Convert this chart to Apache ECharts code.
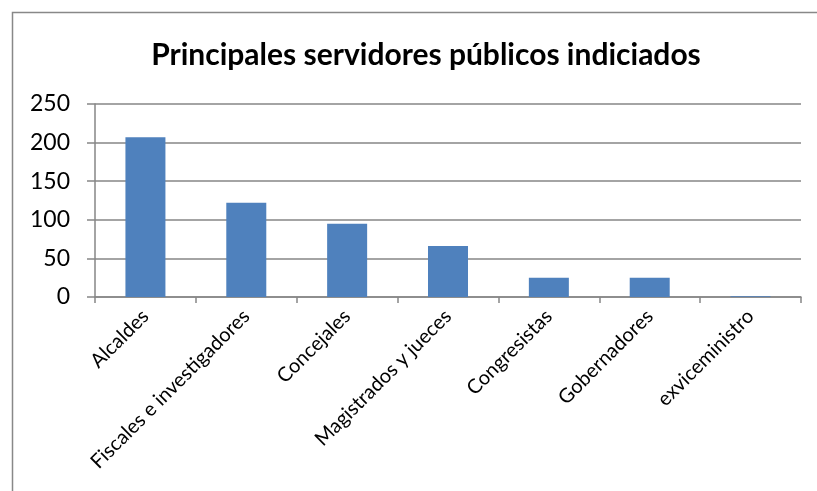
<!DOCTYPE html>
<html><head><meta charset="utf-8">
<script src="https://cdn.jsdelivr.net/npm/echarts@6/dist/echarts.min.js"></script>
<style>html,body{margin:0;padding:0;background:#fff}#c{width:817px;height:491px}</style>
</head><body><div id="c"></div>
<script>
const categories = ["Alcaldes","Fiscales e investigadores","Concejales","Magistrados y jueces","Congresistas","Gobernadores","exviceministro"];
const values = [207, 122, 95, 66, 25, 25, 1];
const yTicks = [0, 50, 100, 150, 200, 250];
const title = "Principales servidores públicos indiciados";

const chart = echarts.init(document.getElementById('c'));
chart.setOption({
  animation: false,
  backgroundColor: '#fff',
  title: { text: title, left: 421, top: 35, textAlign: 'center',
    textStyle: { fontFamily: 'Lato', fontWeight: 'bold', fontSize: 30, color: '#000' } },
  graphic: [{ type: 'rect', shape: { x: 12.5, y: 12.5, width: 900, height: 600 },
    style: { fill: 'none', stroke: '#888', lineWidth: 1.5 }, silent: true }],
  grid: { left: 95, right: 16, top: 104, bottom: 194, containLabel: false },
  xAxis: { type: 'category', data: categories,
    axisLine: { lineStyle: { color: '#868686', width: 1.5 } },
    axisTick: { show: true, length: 6, lineStyle: { color: '#868686', width: 1.5 } },
    axisLabel: { rotate: 45, interval: 0, fontFamily: 'Lato', fontSize: 20, color: '#000', margin: 16 } },
  yAxis: { type: 'value', min: 0, max: 250, interval: 50,
    axisLine: { show: true, lineStyle: { color: '#868686', width: 1.5 } },
    axisTick: { show: true, length: 8, lineStyle: { color: '#868686', width: 1.5 } },
    splitLine: { lineStyle: { color: '#868686', width: 1.5 } },
    axisLabel: { fontFamily: 'Lato', fontSize: 23, color: '#000', margin: 25,
      formatter: v => yTicks.includes(v) ? String(v) : '' } },
  series: [{ type: 'bar', data: values, barWidth: 40,
    itemStyle: { color: '#4f81bd' } }]
});
</script></body></html>
